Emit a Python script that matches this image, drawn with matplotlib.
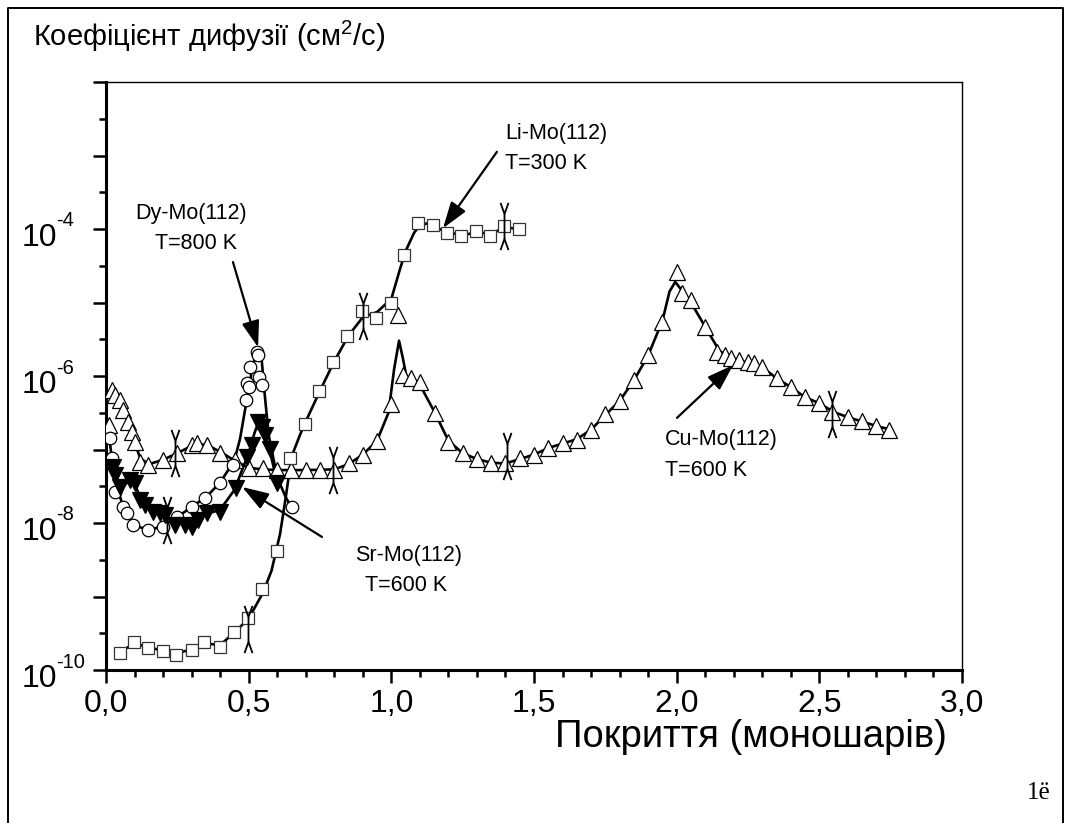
import numpy as np
import matplotlib
matplotlib.use('Agg')
import matplotlib.pyplot as plt
import matplotlib.transforms as mtransforms
from matplotlib.path import Path
from matplotlib.lines import Line2D
from matplotlib.ticker import FixedLocator, FixedFormatter, NullFormatter

plt.rcParams['font.family'] = ['Liberation Sans', 'DejaVu Sans']
plt.rcParams['mathtext.fontset'] = 'custom'
plt.rcParams['mathtext.rm'] = 'Liberation Sans'
plt.rcParams['mathtext.it'] = 'Liberation Sans:italic'
plt.rcParams['mathtext.bf'] = 'Liberation Sans:bold'

# ---------------- data (log10 of D, cm^2/s) ----------------
li_x = [0.049, 0.098, 0.147, 0.200, 0.245, 0.300, 0.345, 0.398, 0.449, 0.498,
        0.546, 0.599, 0.645, 0.697, 0.747, 0.796, 0.845, 0.897, 0.946, 0.999,
        1.045, 1.094, 1.146, 1.195, 1.244, 1.297, 1.346, 1.395, 1.448]
li_lg = [-9.77, -9.62, -9.70, -9.74, -9.80, -9.73, -9.62, -9.69, -9.48, -9.29,
         -8.90, -8.38, -7.12, -6.65, -6.20, -5.81, -5.46, -5.12, -5.21, -5.00,
         -4.35, -3.92, -3.95, -4.05, -4.10, -4.03, -4.10, -3.96, -4.00]

cu_x = [0.01, 0.02, 0.03, 0.05, 0.06, 0.077, 0.091, 0.10, 0.12, 0.147, 0.20, 0.25,
        0.30, 0.32, 0.355, 0.40, 0.452, 0.50, 0.55, 0.60, 0.65, 0.70, 0.75, 0.80,
        0.85, 0.90, 0.95, 1.0, 1.025, 1.04, 1.07, 1.10, 1.153, 1.20, 1.25, 1.30,
        1.35, 1.40, 1.45, 1.50, 1.55, 1.60, 1.65, 1.70, 1.75, 1.80, 1.85, 1.90,
        1.95, 2.0, 2.02, 2.05, 2.10, 2.14, 2.17, 2.19, 2.22, 2.25, 2.27, 2.30,
        2.35, 2.40, 2.45, 2.50, 2.545, 2.60, 2.65, 2.70, 2.745]
cu_lg = [-6.66, -6.19, -6.26, -6.33, -6.46, -6.63, -6.76, -6.90, -7.17, -7.21, -7.14, -7.05,
         -6.94, -6.91, -6.94, -7.05, -7.14, -7.25, -7.25, -7.28, -7.28, -7.28, -7.28, -7.28,
         -7.18, -7.07, -6.88, -6.38, -5.17, -5.99, -6.03, -6.08, -6.50, -6.90, -7.05, -7.13,
         -7.18, -7.18, -7.12, -7.07, -6.98, -6.91, -6.87, -6.73, -6.52, -6.34, -6.06, -5.72,
         -5.27, -4.59, -4.87, -4.97, -5.33, -5.67, -5.71, -5.76, -5.78, -5.81, -5.82, -5.88,
         -6.03, -6.15, -6.29, -6.37, -6.49, -6.56, -6.61, -6.68, -6.73]

dy_x = [0.014, 0.02, 0.03, 0.06, 0.073, 0.095, 0.147, 0.20, 0.248, 0.30, 0.347,
        0.40, 0.446, 0.49, 0.494, 0.50, 0.505, 0.53, 0.533, 0.537, 0.547, 0.652]
dy_lg = [-6.84, -7.12, -7.58, -7.78, -7.86, -8.03, -8.10, -8.05, -7.92, -7.78, -7.66,
         -7.46, -7.21, -6.33, -6.10, -6.15, -5.88, -5.67, -5.71, -6.01, -6.12, -7.78]

sr_x = [0.025, 0.03, 0.05, 0.085, 0.10, 0.12, 0.137, 0.165, 0.19, 0.207, 0.242, 0.277,
        0.30, 0.323, 0.354, 0.40, 0.455, 0.494, 0.51, 0.533, 0.547, 0.557, 0.575, 0.60]
sr_lg = [-7.24, -7.35, -7.51, -7.41, -7.46, -7.69, -7.76, -7.85, -7.86, -7.89, -8.03, -8.03,
         -8.05, -7.96, -7.86, -7.85, -7.53, -7.10, -6.94, -6.62, -6.69, -6.80, -6.99, -7.46]

# fitted (guide) curves
li_fit_x = [0.05, 0.10, 0.15, 0.20, 0.25, 0.30, 0.35, 0.40, 0.45, 0.50, 0.55, 0.58, 0.61,
            0.63, 0.65, 0.68, 0.70, 0.75, 0.80, 0.85, 0.90, 0.95, 1.00, 1.03, 1.05, 1.08,
            1.10, 1.13, 1.15, 1.20, 1.25, 1.30, 1.35, 1.40, 1.45]
li_fit_lg = [-9.75, -9.64, -9.69, -9.74, -9.77, -9.72, -9.64, -9.66, -9.49, -9.30, -8.95,
             -8.65, -8.15, -7.65, -7.10, -6.80, -6.62, -6.20, -5.80, -5.45, -5.20, -5.13,
             -4.95, -4.55, -4.30, -4.05, -3.95, -3.92, -3.97, -4.05, -4.08, -4.05, -4.06,
             -3.98, -4.00]

cu_fit_x = [0.02, 0.05, 0.08, 0.10, 0.12, 0.15, 0.20, 0.25, 0.30, 0.35, 0.40, 0.45, 0.50,
            0.55, 0.60, 0.70, 0.80, 0.85, 0.90, 0.95, 0.99, 1.01, 1.027, 1.04, 1.055,
            1.10, 1.15, 1.20, 1.25, 1.30, 1.35, 1.40, 1.45, 1.50, 1.55, 1.60, 1.65, 1.70,
            1.75, 1.80, 1.85, 1.90, 1.95, 1.975, 1.995, 2.015, 2.05, 2.10, 2.15, 2.20,
            2.25, 2.30, 2.35, 2.40, 2.45, 2.50, 2.55, 2.60, 2.65, 2.70, 2.75]
cu_fit_lg = [-6.20, -6.35, -6.65, -6.90, -7.12, -7.20, -7.14, -7.05, -6.95, -6.93, -7.03,
             -7.15, -7.25, -7.27, -7.28, -7.28, -7.27, -7.20, -7.07, -6.88, -6.50, -5.90,
             -5.52, -5.75, -6.05, -6.12, -6.48, -6.88, -7.05, -7.13, -7.18, -7.19, -7.13,
             -7.07, -6.98, -6.92, -6.86, -6.73, -6.53, -6.34, -6.06, -5.72, -5.25, -4.85,
             -4.72, -4.82, -5.00, -5.33, -5.66, -5.77, -5.82, -5.88, -6.03, -6.15, -6.29,
             -6.37, -6.49, -6.56, -6.62, -6.68, -6.73]

dy_fit_x = [0.01, 0.03, 0.06, 0.10, 0.15, 0.20, 0.25, 0.30, 0.35, 0.40, 0.45, 0.47,
            0.49, 0.51, 0.53, 0.545, 0.555, 0.57, 0.60, 0.63, 0.655]
dy_fit_lg = [-6.80, -7.40, -7.78, -8.03, -8.10, -8.04, -7.92, -7.78, -7.65, -7.45, -7.15,
             -6.85, -6.40, -5.95, -5.62, -5.75, -6.20, -6.80, -7.38, -7.65, -7.82]

sr_fit_x = [0.02, 0.05, 0.08, 0.10, 0.13, 0.17, 0.21, 0.25, 0.30, 0.35, 0.40, 0.45,
            0.48, 0.50, 0.52, 0.535, 0.55, 0.57, 0.60]
sr_fit_lg = [-7.25, -7.48, -7.45, -7.48, -7.72, -7.85, -7.92, -8.00, -8.03, -7.88, -7.82,
             -7.55, -7.25, -7.05, -6.78, -6.62, -6.72, -6.95, -7.45]

err_x = [0.242, 0.214, 0.498, 0.900, 0.797, 1.395, 1.405, 2.545]
err_lg = [-7.05, -7.96, -9.44, -5.18, -7.28, -3.96, -7.09, -6.52]

x_ticks = [0.0, 0.5, 1.0, 1.5, 2.0, 2.5, 3.0]
x_ticklabels = ['0,0', '0,5', '1,0', '1,5', '2,0', '2,5', '3,0']
y_decades = list(range(-10, -1))
y_labelled = [-10, -8, -6, -4]

title_text = 'Коефіцієнт дифузії (см$^2$/с)'
xlabel_text = 'Покриття (моношарів)'

# ---------------- figure ----------------
W, H = 1065, 823
fig = plt.figure(figsize=(W / 100, H / 100), dpi=100)
fig.patch.set_facecolor('white')


def fx(px):
    return px / W


def fy(py):
    return 1 - py / H


ax_l, ax_r, ax_t, ax_b = 106, 962, 82, 670
ax = fig.add_axes([fx(ax_l), fy(ax_b), fx(ax_r) - fx(ax_l), fy(ax_t) - fy(ax_b)])
ax.set_yscale('log')
ax.set_xlim(0, 3)
ax.set_ylim(1e-10, 1e-2)

p = lambda v: np.power(10.0, np.asarray(v))

lw_fit = 1.9
ax.plot(li_fit_x, p(li_fit_lg), '-', color='k', lw=lw_fit, zorder=2)
ax.plot(cu_fit_x, p(cu_fit_lg), '-', color='k', lw=lw_fit, zorder=2)
ax.plot(dy_fit_x, p(dy_fit_lg), '-', color='k', lw=lw_fit, zorder=2)
ax.plot(sr_fit_x, p(sr_fit_lg), '-', color='k', lw=lw_fit, zorder=2)

ax.plot(cu_x, p(cu_lg), linestyle='none', marker='^', ms=11, mfc='white',
        mec='k', mew=0.9, zorder=3)
ax.plot(dy_x, p(dy_lg), linestyle='none', marker='o', ms=9, mfc='white',
        mec='k', mew=0.9, zorder=3)
ax.plot(li_x, p(li_lg), linestyle='none', marker='s', ms=8.5, mfc='white',
        mec='#333333', mew=0.9, zorder=4)
ax.plot(sr_x, p(sr_lg), linestyle='none', marker='v', ms=11, mfc='k',
        mec='k', mew=0.9, zorder=4)

# forked error-bar like markers
ya = 0.53
hw = 0.17
err_path = Path([(0, -ya), (0, ya),
                 (-hw, 1), (0, ya), (hw, 1),
                 (-hw, -1), (0, -ya), (hw, -1)],
                [Path.MOVETO, Path.LINETO,
                 Path.MOVETO, Path.LINETO, Path.LINETO,
                 Path.MOVETO, Path.LINETO, Path.LINETO])
ax.plot(err_x, p(err_lg), linestyle='none', marker=err_path, ms=34,
        mfc='none', mec='k', mew=1.3, zorder=5)

# spines
for s in ['left', 'bottom']:
    ax.spines[s].set_linewidth(2.2)
for s in ['top', 'right']:
    ax.spines[s].set_linewidth(1.0)

# ticks
ax.xaxis.set_major_locator(FixedLocator(x_ticks))
ax.xaxis.set_major_formatter(FixedFormatter(x_ticklabels))
ax.xaxis.set_minor_locator(FixedLocator(np.arange(0, 3.0001, 0.1)))
ax.yaxis.set_major_locator(FixedLocator([10.0 ** k for k in y_decades]))
ax.yaxis.set_major_formatter(NullFormatter())
ax.yaxis.set_minor_locator(FixedLocator([10.0 ** (k + 0.5) for k in y_decades[:-1]]))
ax.yaxis.set_minor_formatter(NullFormatter())

ax.tick_params(axis='both', which='major', direction='out', length=9.5, width=1.8)
ax.tick_params(axis='both', which='minor', direction='out', length=5, width=1.8)
ax.tick_params(axis='x', which='major', pad=4, labelsize=23)
ax.tick_params(top=False, right=False, labelleft=False)

# y tick labels: "10" with a hyphen-minus exponent, left aligned
ytrans = mtransforms.blended_transform_factory(fig.transFigure, ax.transData)
base_tr = mtransforms.offset_copy(ytrans, fig=fig, x=0, y=-9, units='dots')
sup_tr = mtransforms.offset_copy(ytrans, fig=fig, x=0, y=8, units='dots')
for k in y_labelled:
    ax.text(fx(22), 10.0 ** k, '10', transform=base_tr, fontsize=23,
            ha='left', va='center', clip_on=False)
    ax.text(fx(56), 10.0 ** k, '-%d' % (-k), transform=sup_tr, fontsize=14.5,
            ha='left', va='center', clip_on=False)

# texts
fig.text(fx(33), fy(46), title_text, fontsize=21, va='baseline', ha='left')
fig.text(fx(555), fy(747), xlabel_text, fontsize=27.5, va='baseline', ha='left')

ann_fs = 15.5
fig.text(fx(505), fy(139), 'Li-Mo(112)', fontsize=ann_fs, va='baseline')
fig.text(fx(505), fy(169), 'T=300 K', fontsize=ann_fs, va='baseline')
fig.text(fx(135), fy(219), 'Dy-Mo(112)', fontsize=ann_fs, va='baseline')
fig.text(fx(155), fy(249), 'T=800 K', fontsize=ann_fs, va='baseline')
fig.text(fx(355), fy(561), 'Sr-Mo(112)', fontsize=ann_fs, va='baseline')
fig.text(fx(365), fy(591), 'T=600 K', fontsize=ann_fs, va='baseline')
fig.text(fx(665), fy(445), 'Cu-Mo(112)', fontsize=ann_fs, va='baseline')
fig.text(fx(665), fy(476), 'T=600 K', fontsize=ann_fs, va='baseline')
fig.text(fx(1027), fy(799), '1ё', fontsize=18, va='baseline',
         family=['Liberation Serif', 'DejaVu Serif'])

arrow_kw = dict(arrowstyle='-|>,head_length=0.9,head_width=0.3', color='k', lw=1.6,
                shrinkA=0, shrinkB=0, mutation_scale=18)
ax.annotate('', xy=(1.181, 10 ** -3.99), xytext=(1.370, 10 ** -2.95), arrowprops=arrow_kw)
ax.annotate('', xy=(0.533, 10 ** -5.61), xytext=(0.445, 10 ** -4.45), arrowprops=arrow_kw)
ax.annotate('', xy=(0.477, 10 ** -7.51), xytext=(0.757, 10 ** -8.19), arrowprops=arrow_kw)
ax.annotate('', xy=(2.198, 10 ** -5.85), xytext=(2.001, 10 ** -6.57), arrowprops=arrow_kw)

# outer frame
fig.add_artist(Line2D([fx(8), fx(8), fx(1063), fx(1063)],
                      [fy(840), fy(8), fy(8), fy(840)],
                      transform=fig.transFigure, color='k', lw=1.4))

fig.savefig('out.png', dpi=100)
